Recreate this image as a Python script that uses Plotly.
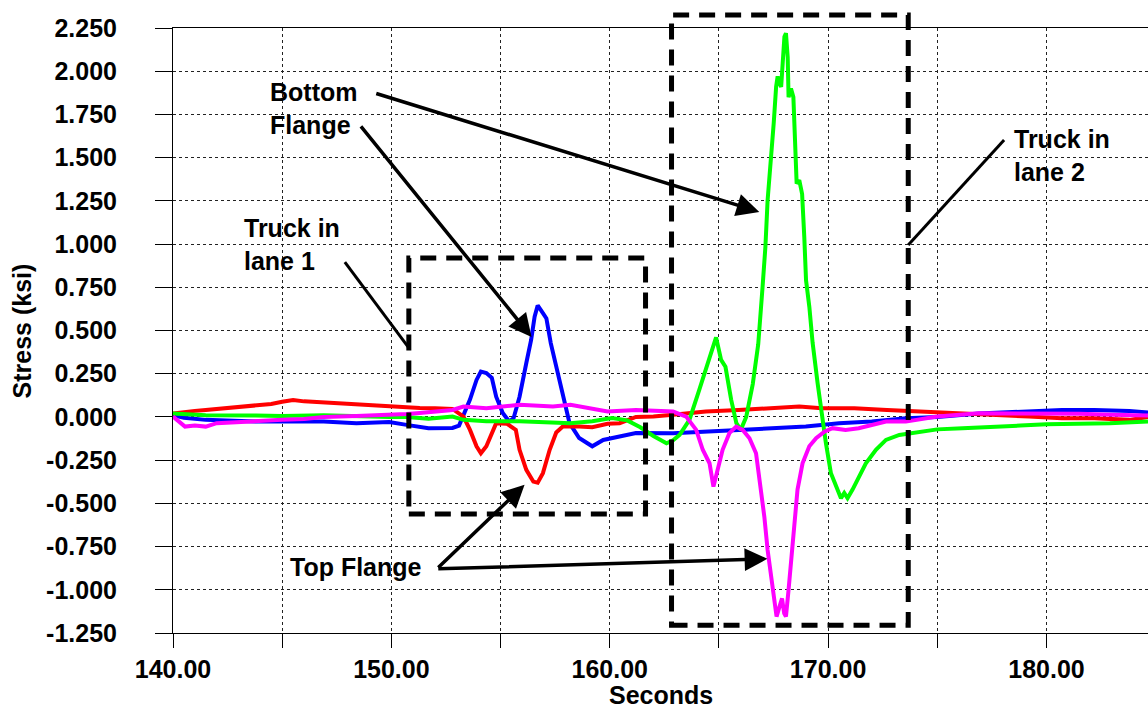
import plotly.graph_objects as go

# ---- measured stress histories (seconds, ksi) ----
red_t = [140.0, 140.5, 141.0, 141.5, 142.5, 143.3, 143.8, 144.5, 145.0, 145.5, 146.0, 146.9,
         147.5, 148.4, 149.2, 149.9, 150.7, 151.3, 152.0, 152.8, 153.3, 153.6, 153.9, 154.1,
         154.35, 154.6, 154.8, 155.3, 155.7, 155.87, 156.18, 156.5, 156.7, 156.94, 157.25,
         157.55, 157.85, 158.6, 159.2, 159.9, 160.45, 161.2, 162.0, 162.9, 164.4, 165.9,
         167.46, 168.68, 169.7, 171.2, 172.7, 174.3, 175.0, 176.15, 177.7, 179.2, 180.7,
         182.2, 183.8, 184.65]
red_v = [0.02, 0.03, 0.035, 0.04, 0.05, 0.06, 0.064, 0.075, 0.088, 0.098, 0.09, 0.083,
         0.08, 0.075, 0.07, 0.064, 0.058, 0.052, 0.05, 0.046, 0.002, -0.075, -0.17, -0.21,
         -0.17, -0.093, -0.036, -0.04, -0.075, -0.19, -0.306, -0.374, -0.38, -0.325, -0.19,
         -0.09, -0.056, -0.056, -0.06, -0.04, -0.036, 0.0, 0.002, 0.012, 0.031, 0.04,
         0.05, 0.06, 0.05, 0.05, 0.04, 0.031, 0.031, 0.021, 0.012, 0.002, -0.008,
         -0.008, -0.017, 0.0]

blue_t = [140.0, 140.5, 141.5, 142.5, 143.8, 145.0, 146.9, 148.4, 149.9, 150.7, 151.3, 151.7,
          152.8, 153.1, 153.6, 153.9, 154.1, 154.35, 154.6, 154.8, 155.1, 155.4, 155.6,
          155.87, 156.18, 156.4, 156.56, 156.7, 156.94, 157.1, 157.3, 157.55, 157.85,
          158.16, 158.6, 159.2, 159.7, 160.45, 161.2, 162.9, 164.4, 165.9, 167.46, 168.98,
          170.5, 172.0, 173.56, 175.0, 176.9, 179.2, 180.7, 182.2, 183.8, 184.65]
blue_v = [0.01, -0.005, -0.017, -0.022, -0.027, -0.027, -0.027, -0.036, -0.03, -0.046, -0.056, -0.065,
          -0.064, -0.05, 0.1, 0.214, 0.262, 0.254, 0.226, 0.117, 0.023, -0.027, -0.006,
          0.117, 0.312, 0.445, 0.58, 0.645, 0.6, 0.57, 0.427, 0.29, 0.138,
          -0.036, -0.122, -0.17, -0.133, -0.114, -0.093, -0.094, -0.085, -0.075, -0.065, -0.056,
          -0.037, -0.027, -0.008, 0.0, 0.02, 0.031, 0.04, 0.04, 0.035, 0.025]

green_t = [140.0, 141.5, 143.8, 145.0, 146.9, 148.4, 149.9, 150.7, 151.7, 152.8, 153.3, 154.35,
           155.87, 158.2, 159.2, 160.1, 160.8, 161.4, 162.0, 162.6, 162.9, 163.2, 163.65,
           164.1, 164.56, 164.87, 165.1, 165.3, 165.56, 165.8, 166.0, 166.25, 166.55, 166.8,
           167.0, 167.13, 167.23, 167.39, 167.51, 167.62, 167.69, 167.77, 167.85, 167.92,
           168.0, 168.07, 168.15, 168.19, 168.3, 168.41, 168.5, 168.56, 168.68, 168.81,
           168.91, 168.99, 169.14, 169.29, 169.52, 169.72, 169.9, 170.13, 170.36, 170.59,
           170.74, 170.89, 171.12, 171.43, 171.73, 172.19, 172.65, 173.26, 173.87, 174.48,
           175.0, 176.15, 177.5, 178.8, 180.0, 181.5, 182.9, 184.65]
green_v = [0.02, 0.01, 0.008, 0.006, 0.01, 0.003, 0.0, 0.0, -0.01, 0.002, -0.017, -0.025,
           -0.025, -0.036, -0.025, -0.006, -0.02, -0.06, -0.11, -0.152, -0.135, -0.104, -0.017,
           0.156, 0.33, 0.46, 0.33, 0.29, 0.1, -0.036, -0.075, 0.0, 0.19, 0.42,
           0.754, 0.985, 1.254, 1.486, 1.70, 1.91, 1.97, 1.93, 1.91, 2.045,
           2.20, 2.22, 2.08, 1.85, 1.90, 1.85, 1.525, 1.35, 1.37, 1.29,
           1.04, 0.79, 0.638, 0.43, 0.195, 0.0, -0.152, -0.326, -0.403, -0.47,
           -0.44, -0.47, -0.42, -0.345, -0.268, -0.19, -0.133, -0.104, -0.094, -0.085,
           -0.072, -0.066, -0.06, -0.05, -0.042, -0.04, -0.037, -0.027]

magenta_t = [140.0, 140.3, 140.55, 141.0, 141.5, 142.0, 142.8, 143.8, 145.0, 146.0, 146.9, 148.4,
             149.9, 150.7, 151.3, 151.7, 152.8, 153.3, 154.35, 155.87, 157.4, 158.2, 159.2,
             159.9, 161.2, 162.9, 163.5, 163.96, 164.26, 164.57, 164.75, 164.9, 165.17,
             165.48, 165.79, 166.09, 166.4, 166.7, 166.93, 167.08, 167.23, 167.39, 167.54,
             167.64, 167.8, 167.89, 167.99, 168.07, 168.19, 168.35, 168.45, 168.6, 168.83,
             169.14, 169.45, 169.83, 170.2, 170.8, 171.4, 172.0, 172.65, 173.56, 174.3,
             175.0, 176.9, 178.4, 180.0, 181.5, 183.0, 184.65]
magenta_v = [0.002, -0.03, -0.056, -0.05, -0.056, -0.036, -0.03, -0.021, -0.017, -0.012, 0.0, 0.006,
             0.01, 0.017, 0.023, 0.029, 0.04, 0.06, 0.05, 0.07, 0.06, 0.07, 0.05,
             0.031, 0.04, 0.031, 0.002, -0.075, -0.19, -0.268, -0.403, -0.326, -0.19,
             -0.094, -0.056, -0.075, -0.123, -0.21, -0.42, -0.577, -0.77, -0.924, -1.078,
             -1.155, -1.087, -1.05, -1.136, -1.155, -1.0, -0.77, -0.577, -0.42, -0.268,
             -0.17, -0.123, -0.085, -0.065, -0.075, -0.065, -0.046, -0.027, -0.027, -0.01,
             0.002, 0.021, 0.02, 0.021, 0.018, 0.012, 0.008]

x_ticks = [140, 145, 150, 155, 160, 165, 170, 175, 180]
x_labels = ["140.00", "", "150.00", "", "160.00", "", "170.00", "", "180.00"]
y_ticks = [-1.25, -1.0, -0.75, -0.5, -0.25, 0.0, 0.25, 0.5, 0.75, 1.0, 1.25, 1.5, 1.75, 2.0, 2.25]
y_labels = ["%.3f" % v for v in y_ticks]

X_RANGE = [140.0, 184.65]
Y_RANGE = [-1.25, 2.25]

FONT = "Liberation Sans, Arial, sans-serif"


def px(t):
    return (t - X_RANGE[0]) / (X_RANGE[1] - X_RANGE[0])


def py(v):
    return (v - Y_RANGE[0]) / (Y_RANGE[1] - Y_RANGE[0])


fig = go.Figure()
for t, v, c in [(blue_t, blue_v, "#0000FF"), (red_t, red_v, "#FF0000"),
                (green_t, green_v, "#00FF00"), (magenta_t, magenta_v, "#FF00FF")]:
    fig.add_trace(go.Scatter(x=t, y=v, mode="lines", line=dict(color=c, width=4),
                             showlegend=False, hoverinfo="skip"))

# dashed boxes around the two truck events
box_style = dict(color="black", width=5, dash="16px,10px")
fig.add_shape(type="rect", xref="paper", yref="paper",
              x0=px(150.80), x1=px(161.64), y0=py(-0.561), y1=py(0.920),
              line=box_style, layer="above")
fig.add_shape(type="rect", xref="paper", yref="paper",
              x0=px(162.83), x1=px(173.67), y0=py(-1.205), y1=py(2.325),
              line=box_style, layer="above")

# leader lines from the truck labels to the boxes
fig.add_shape(type="line", xref="paper", yref="paper",
              x0=px(147.87), y0=py(0.896), x1=px(150.80), y1=py(0.399),
              line=dict(color="black", width=3))
fig.add_shape(type="line", xref="paper", yref="paper",
              x0=px(178.06), y0=py(1.602), x1=px(173.67), y1=py(0.995),
              line=dict(color="black", width=3))

label_font = dict(family=FONT, size=25, color="black", weight="bold")


def label(text, t, v):
    fig.add_annotation(text=text, x=t, y=v, xref="x", yref="y", showarrow=False,
                       xanchor="left", yanchor="middle", align="left", font=label_font)


def arrow(t0, v0, t1, v1):
    fig.add_annotation(text="", x=t1, y=v1, ax=t0, ay=v0, xref="x", yref="y",
                       axref="x", ayref="y", showarrow=True, arrowhead=2,
                       arrowsize=1.3, arrowwidth=3.5, arrowcolor="black", standoff=0)


label("Bottom<br>Flange", 144.35, 1.787)
label("Truck in<br>lane 1", 143.16, 0.995)
label("Truck in<br>lane 2", 178.43, 1.515)
label("Top Flange", 145.26, -0.868)

arrow(149.24, 1.874, 166.85, 1.186)
arrow(148.55, 1.689, 156.42, 0.463)
arrow(152.08, -0.879, 156.10, -0.393)
arrow(152.08, -0.879, 167.22, -0.821)

# axis titles
fig.add_annotation(text="Stress (ksi)", xref="paper", yref="paper", x=-0.1549, y=0.5,
                   textangle=-90, showarrow=False, xanchor="center", yanchor="middle",
                   font=label_font)
fig.add_annotation(text="Seconds", xref="paper", yref="paper", x=0.5, y=-0.1025,
                   showarrow=False, xanchor="center", yanchor="middle", font=label_font)

grid = dict(showgrid=True, gridcolor="#222222", gridwidth=1, griddash="3px,3px")
tick_font = dict(family=FONT, size=25, color="black", weight="bold")

fig.update_xaxes(range=X_RANGE, tickmode="array", tickvals=x_ticks, ticktext=x_labels,
                 ticks="outside", ticklen=14, tickwidth=1, tickcolor="black",
                 showline=True, linecolor="black", linewidth=1, mirror=True,
                 zeroline=False, tickfont=tick_font, ticklabelstandoff=0, **grid)
fig.update_yaxes(range=Y_RANGE, tickmode="array", tickvals=y_ticks, ticktext=y_labels,
                 ticks="outside", ticklen=17, tickwidth=1, tickcolor="black",
                 showline=True, linecolor="black", linewidth=1, mirror=False,
                 zeroline=False, tickfont=tick_font, ticklabelstandoff=33, **grid)

fig.update_layout(width=1148, height=709, margin=dict(l=173, r=0, t=28, b=76),
                  paper_bgcolor="white", plot_bgcolor="white", showlegend=False)

fig.write_html("out.html")
